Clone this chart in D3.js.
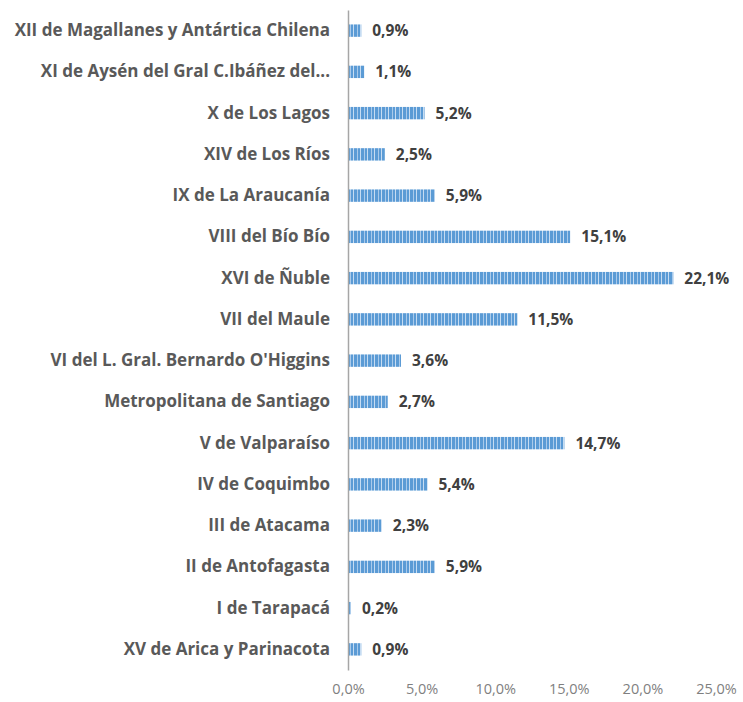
<!DOCTYPE html>
<html>
<head>
<meta charset="utf-8">
<script src="https://cdn.jsdelivr.net/npm/d3@7"></script>
<style>
  body { margin: 0; background: #fff; }
  svg text { font-family: "Open Sans", "Noto Sans", sans-serif; }
</style>
</head>
<body>
<div id="chart"></div>
<script>
const regions = [
  'XII de Magallanes y Antártica Chilena',
  'XI de Aysén del Gral C.Ibáñez del...',
  'X de Los Lagos',
  'XIV de Los Ríos',
  'IX de La Araucanía',
  'VIII del Bío Bío',
  'XVI de Ñuble',
  'VII del Maule',
  "VI del L. Gral. Bernardo O'Higgins",
  'Metropolitana de Santiago',
  'V de Valparaíso',
  'IV de Coquimbo',
  'III de Atacama',
  'II de Antofagasta',
  'I de Tarapacá',
  'XV de Arica y Parinacota'
];
const shares = [0.9, 1.1, 5.2, 2.5, 5.9, 15.1, 22.1, 11.5, 3.6, 2.7, 14.7, 5.4, 2.3, 5.9, 0.2, 0.9];
const ticks = [0, 5, 10, 15, 20, 25];

const width = 743, height = 702;
const margin = { top: 10, right: 27, bottom: 32, left: 348 };
const innerW = width - margin.left - margin.right;
const innerH = height - margin.top - margin.bottom;

const svg = d3.select('#chart').append('svg')
  .attr('width', width).attr('height', height);

// striped fill like the original bars
const defs = svg.append('defs');
const pat = defs.append('pattern')
  .attr('id', 'stripes').attr('patternUnits', 'userSpaceOnUse')
  .attr('width', 7).attr('height', 12);
pat.append('rect').attr('width', 7).attr('height', 12).attr('fill', '#5b9bd5');
pat.append('rect').attr('x', 2).attr('width', 1).attr('height', 12).attr('fill', '#a9caeb');
pat.append('rect').attr('x', 5).attr('width', 1).attr('height', 12).attr('fill', '#c6dcf2');

const g = svg.append('g').attr('transform', `translate(${margin.left},${margin.top})`);

const x = d3.scaleLinear().domain([0, 25]).range([0, innerW]);
const y = d3.scaleBand().domain(regions).range([0, innerH]).paddingInner(0.7).paddingOuter(0.35);

const fmt = v => d3.format('.1f')(v).replace('.', ',') + '%';

g.selectAll('rect.bar')
  .data(regions)
  .join('rect')
  .attr('class', 'bar')
  .attr('x', 0)
  .attr('y', d => y(d))
  .attr('width', (d, i) => x(shares[i]))
  .attr('height', y.bandwidth())
  .attr('fill', 'url(#stripes)');

g.selectAll('text.val')
  .data(regions)
  .join('text')
  .attr('class', 'val')
  .attr('x', (d, i) => x(shares[i]) + 11)
  .attr('y', d => y(d) + y.bandwidth() / 2)
  .attr('dy', '0.35em')
  .attr('font-size', 15.5)
  .attr('font-weight', 700)
  .attr('fill', '#404040')
  .text((d, i) => fmt(shares[i]));

const yAxis = g.append('g').call(d3.axisLeft(y).tickSize(0).tickPadding(18));
yAxis.select('.domain').attr('stroke', '#a6a6a6').attr('stroke-width', 1.5);
yAxis.selectAll('text')
  .attr('font-size', 17)
  .attr('font-weight', 700)
  .attr('fill', '#595959');

const xAxis = g.append('g').attr('transform', `translate(0,${innerH})`)
  .call(d3.axisBottom(x).tickValues(ticks).tickSize(0).tickPadding(14).tickFormat(fmt));
xAxis.select('.domain').remove();
xAxis.selectAll('text')
  .attr('font-size', 14.5)
  .attr('fill', '#7f7f7f');
</script>
</body>
</html>
